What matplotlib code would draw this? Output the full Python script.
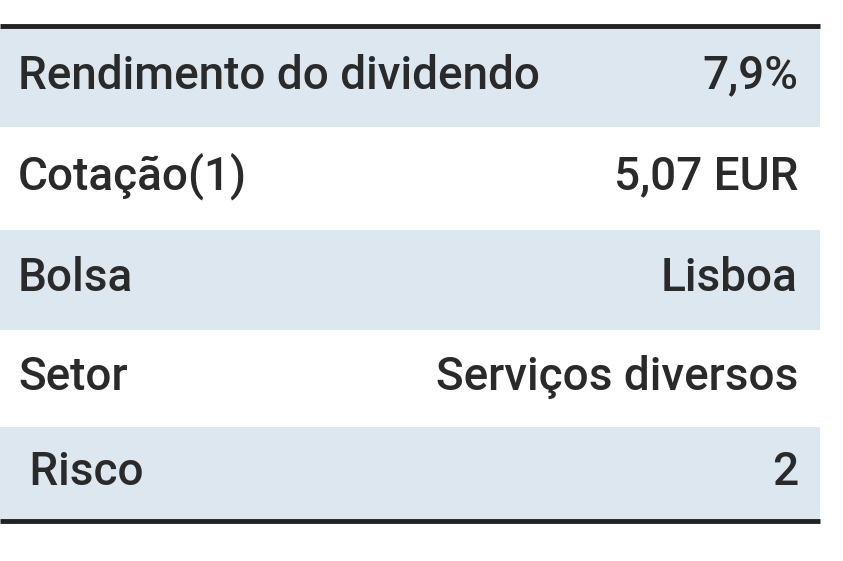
import matplotlib
matplotlib.use("Agg")
import matplotlib.pyplot as plt

labels = ["Rendimento do dividendo", "Cotação(1)", "Bolsa", "Setor", " Risco"]
values = ["7,9%", "5,07 EUR", "Lisboa", "Serviços diversos", "2"]
shaded = [True, False, True, False, True]

W, H = 843, 561
fig = plt.figure(figsize=(W/100, H/100), dpi=100)
ax = fig.add_axes([0, 0, 1, 1])
ax.set_xlim(0, W); ax.set_ylim(H, 0); ax.axis("off")

edges = [28, 127, 230, 330, 427, 520]
for i, (lab, val) in enumerate(zip(labels, values)):
    y0, y1 = edges[i], edges[i+1]
    if shaded[i]:
        ax.add_patch(plt.Rectangle((0, y0), 820, y1-y0, color="#dde7ef", lw=0))
    yc = (y0+y1)/2 - 2
    ax.text(18, yc, lab, fontsize=33, family="Roboto", fontweight="medium", color="#2a2a2a", va="center", ha="left")
    ax.text(798, yc, val, fontsize=33, family="Roboto", fontweight="medium", color="#2a2a2a", va="center", ha="right")
ax.plot([0, 820], [26, 26], color="#222222", lw=3.5, solid_capstyle="butt")
ax.plot([0, 820], [521, 521], color="#222222", lw=3.5, solid_capstyle="butt")
fig.savefig("out.png", dpi=100)
